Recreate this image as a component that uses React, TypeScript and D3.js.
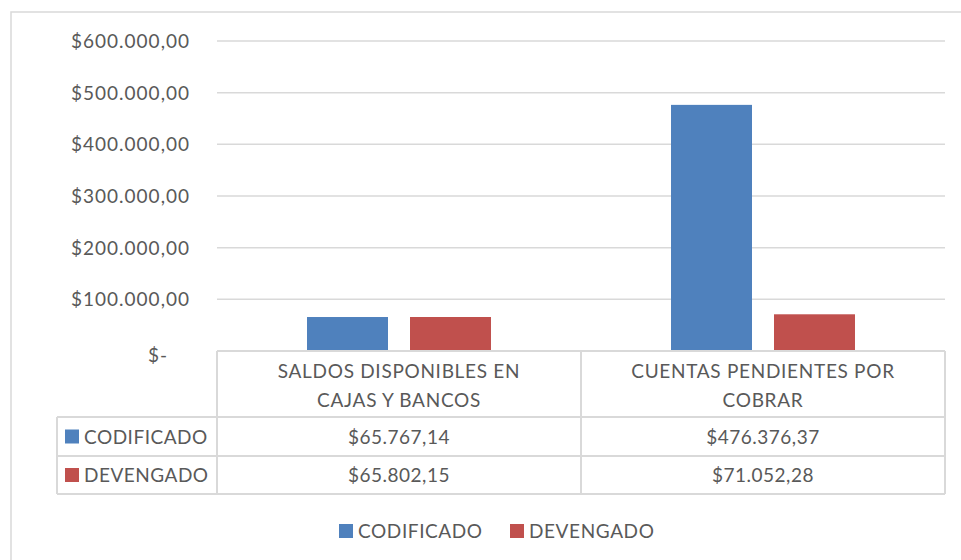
import { useEffect, useRef } from "react";
import * as d3 from "d3";

const categories = ["SALDOS DISPONIBLES EN CAJAS Y BANCOS", "CUENTAS PENDIENTES POR COBRAR"];
const categoryLines = [
  ["SALDOS DISPONIBLES EN", "CAJAS Y BANCOS"],
  ["CUENTAS PENDIENTES POR", "COBRAR"],
];
const seriesNames = ["CODIFICADO", "DEVENGADO"];
const codificado = [65767.14, 476376.37];
const devengado = [65802.15, 71052.28];
const yTicks = [0, 100000, 200000, 300000, 400000, 500000, 600000];

const colors = ["#4F81BD", "#C0504D"];
const textColor = "#595959";
const lineColor = "#d9d9d9";
const font = "Lato, 'Open Sans', sans-serif";

const locale = d3.formatLocale({
  decimal: ",",
  thousands: ".",
  grouping: [3],
  currency: ["$", ""],
});
const money = locale.format("$,.2f");

function App() {
  const ref = useRef<SVGSVGElement>(null);

  useEffect(() => {
    const svg = d3.select(ref.current);
    svg.selectAll("*").remove();

    const values = [codificado, devengado];

    // plot area
    const left = 217;
    const right = 945;
    const top = 41;
    const zeroY = 351;

    const x0 = d3.scaleBand().domain(categories).range([left, right]);
    const x1 = d3
      .scaleBand()
      .domain(seriesNames)
      .range([0, x0.bandwidth()])
      .paddingInner(0.2136)
      .paddingOuter(0.874);
    const y = d3.scaleLinear().domain([0, 600000]).range([zeroY, top]);

    // outer chart border
    svg
      .append("rect")
      .attr("x", 11)
      .attr("y", 12)
      .attr("width", 980)
      .attr("height", 600)
      .attr("fill", "white")
      .attr("stroke", lineColor)
      .attr("stroke-width", 1.5);

    // grid
    svg
      .append("g")
      .selectAll("line")
      .data(yTicks.filter((d) => d > 0))
      .enter()
      .append("line")
      .attr("x1", left)
      .attr("x2", right)
      .attr("y1", (d) => y(d))
      .attr("y2", (d) => y(d))
      .attr("stroke", lineColor)
      .attr("stroke-width", 1.5);

    // y labels
    svg
      .append("g")
      .selectAll("text")
      .data(yTicks)
      .enter()
      .append("text")
      .attr("x", (d) => (d === 0 ? 168 : 190))
      .attr("y", (d) => y(d) + (d === 0 ? 11 : 7))
      .attr("text-anchor", "end")
      .attr("font-family", font)
      .attr("font-size", 19)
      .attr("letter-spacing", 1)
      .attr("fill", textColor)
      .text((d) => (d === 0 ? "$-" : money(d)));

    // bars
    seriesNames.forEach((s, si) => {
      svg
        .append("g")
        .selectAll("rect")
        .data(values[si])
        .enter()
        .append("rect")
        .attr("x", (d, i) => (x0(categories[i]) ?? 0) + (x1(s) ?? 0))
        .attr("y", (d) => y(d))
        .attr("width", x1.bandwidth())
        .attr("height", (d) => zeroY - y(d))
        .attr("fill", colors[si]);
    });

    // data table
    const tableLeft = 57;
    const rowTops = [zeroY, 417, 456, 494];
    const table = svg.append("g").attr("stroke", lineColor).attr("stroke-width", 2);
    table.append("line").attr("x1", left).attr("x2", right).attr("y1", zeroY).attr("y2", zeroY);
    rowTops.slice(1).forEach((ry) => {
      table.append("line").attr("x1", tableLeft).attr("x2", right).attr("y1", ry).attr("y2", ry);
    });
    [left, ...categories.map((c) => (x0(c) ?? 0) + x0.bandwidth())].forEach((vx) => {
      table.append("line").attr("x1", vx).attr("x2", vx).attr("y1", zeroY).attr("y2", rowTops[3]);
    });
    table
      .append("line")
      .attr("x1", tableLeft)
      .attr("x2", tableLeft)
      .attr("y1", rowTops[1])
      .attr("y2", rowTops[3]);

    // category header
    categories.forEach((c, i) => {
      const cx = (x0(c) ?? 0) + x0.bandwidth() / 2;
      const t = svg
        .append("text")
        .attr("text-anchor", "middle")
        .attr("font-family", font)
        .attr("font-size", 19)
        .attr("letter-spacing", 0.7)
        .attr("fill", textColor);
      categoryLines[i].forEach((ln, li) => {
        t.append("tspan").attr("x", cx).attr("y", 378 + li * 29).text(ln);
      });
    });

    // table rows
    seriesNames.forEach((s, si) => {
      const rowMid = (rowTops[si + 1] + rowTops[si + 2]) / 2;
      svg
        .append("rect")
        .attr("x", 65)
        .attr("y", rowMid - 7)
        .attr("width", 14)
        .attr("height", 14)
        .attr("fill", colors[si]);
      svg
        .append("text")
        .attr("x", 84)
        .attr("y", rowMid + 7)
        .attr("font-family", font)
        .attr("font-size", 19)
        .attr("letter-spacing", 0.5)
        .attr("fill", textColor)
        .text(s);
      values[si].forEach((v, i) => {
        svg
          .append("text")
          .attr("x", (x0(categories[i]) ?? 0) + x0.bandwidth() / 2)
          .attr("y", rowMid + 7)
          .attr("text-anchor", "middle")
          .attr("font-family", font)
          .attr("font-size", 19)
          .attr("letter-spacing", 0.5)
          .attr("fill", textColor)
          .text(money(v));
      });
    });

    // legend
    const legendX = [339, 510];
    seriesNames.forEach((s, si) => {
      svg
        .append("rect")
        .attr("x", legendX[si])
        .attr("y", 524)
        .attr("width", 14)
        .attr("height", 14)
        .attr("fill", colors[si]);
      svg
        .append("text")
        .attr("x", legendX[si] + 19)
        .attr("y", 538)
        .attr("font-family", font)
        .attr("font-size", 19)
        .attr("letter-spacing", 0.6)
        .attr("fill", textColor)
        .text(s);
    });
  }, []);

  return (
    <svg
      ref={ref}
      width={961}
      height={560}
      style={{ position: "absolute", left: 0, top: 0, background: "white" }}
    />
  );
}

export default App;
